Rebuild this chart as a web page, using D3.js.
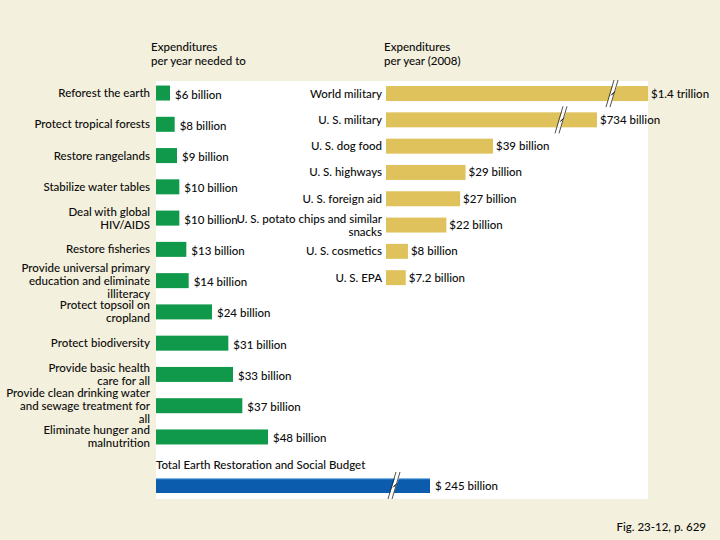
<!DOCTYPE html>
<html>
<head>
<meta charset="utf-8">
<script src="https://cdn.jsdelivr.net/npm/d3@7"></script>
<style>
    body { margin: 0; background: #f3f0dd; }
    text { font-family: Lato, "Open Sans", sans-serif; font-size: 11.5px; font-weight: 500; fill: #0c0c0c; }
</style>
</head>
<body>
<div id="chart"></div>
<script>
// what it would cost per year (billions of dollars)
const needCategories = [
    ["Reforest the earth"],
    ["Protect tropical forests"],
    ["Restore rangelands"],
    ["Stabilize water tables"],
    ["Deal with global", "HIV/AIDS"],
    ["Restore fisheries"],
    ["Provide universal primary", "education and eliminate", "illiteracy"],
    ["Protect topsoil on", "cropland"],
    ["Protect biodiversity"],
    ["Provide basic health", "care for all"],
    ["Provide clean drinking water", "and sewage treatment for", "all"],
    ["Eliminate hunger and", "malnutrition"]
];
const needValues = [6, 8, 9, 10, 10, 13, 14, 24, 31, 33, 37, 48];
const needLabels = ["$6 billion", "$8 billion", "$9 billion", "$10 billion", "$10 billion",
    "$13 billion", "$14 billion", "$24 billion", "$31 billion", "$33 billion", "$37 billion", "$48 billion"];

// what is spent per year (2008, billions of dollars)
const spendCategories = [
    ["World military"],
    ["U. S. military"],
    ["U. S. dog food"],
    ["U. S. highways"],
    ["U. S. foreign aid"],
    ["U. S. potato chips and similar", "snacks"],
    ["U. S. cosmetics"],
    ["U. S. EPA"]
];
const spendValues = [1400, 734, 39, 29, 27, 22, 8, 7.2];
const spendLabels = ["$1.4 trillion", "$734 billion", "$39 billion", "$29 billion",
    "$27 billion", "$22 billion", "$8 billion", "$7.2 billion"];

const totalTitle = "Total Earth Restoration and Social Budget";
const totalValue = 245;
const totalLabel = "$ 245 billion";

const width = 720;
const height = 540;
const lineH = 13;

const svg = d3.select("#chart")
    .append("svg")
    .attr("width", width)
    .attr("height", height);

svg.append("rect")
    .attr("width", width)
    .attr("height", height)
    .attr("fill", "#f3f0dd");

svg.append("rect")
    .attr("x", 156)
    .attr("y", 81)
    .attr("width", 492)
    .attr("height", 418)
    .attr("fill", "#ffffff");

// headers
const header = (x, lines) => {
    svg.append("text")
        .attr("x", x)
        .attr("y", 51)
        .selectAll("tspan")
        .data(lines)
        .join("tspan")
        .attr("x", x)
        .attr("dy", (d, i) => i === 0 ? 0 : 14)
        .text(d => d);
};
header(151, ["Expenditures", "per year needed to"]);
header(384, ["Expenditures", "per year (2008)"]);

// scales: past the break the bars are squeezed
const xNeed = d3.scaleLinear()
    .domain([0, 48, 245])
    .range([156, 268, 430]);
const yNeed = d3.scaleBand()
    .domain(d3.range(needValues.length))
    .range([77.4, 452.6])
    .paddingInner(0.52)
    .paddingOuter(0.26);

const xSpend = d3.scaleLinear()
    .domain([0, 39, 734, 1400])
    .range([386, 493, 597, 648]);
const ySpend = d3.scaleBand()
    .domain(d3.range(spendValues.length))
    .range([80.4, 290.8])
    .paddingInner(0.43)
    .paddingOuter(0.215);

const multiLine = (sel, x, yc, anchor) => {
    sel.attr("text-anchor", anchor)
        .selectAll("tspan")
        .data(d => d)
        .join("tspan")
        .attr("x", x)
        .attr("y", (d, i, nodes) => yc + (i - (nodes.length - 1) / 2) * lineH)
        .attr("dy", "0.35em")
        .text(d => d);
};

const breakMark = (g, bx, y0, h) => {
    const top = y0 - 6, bot = y0 + h + 6;
    g.append("path")
        .attr("d", `M${bx - 2},${y0 + h} L${bx + 3},${y0} L${bx + 7},${y0} L${bx + 2},${y0 + h} Z`)
        .attr("fill", "#ffffff");
    g.append("path")
        .attr("d", `M${bx - 4},${bot} L${bx + 4},${top} M${bx},${bot} L${bx + 8},${top}`)
        .attr("stroke", "#222")
        .attr("stroke-width", 0.8)
        .attr("fill", "none");
    g.append("path")
        .attr("d", `M${bx + 1},${y0 + h / 2 + 2} L${bx + 4},${y0 + h / 2 - 1} L${bx + 2},${y0 + h / 2 + 1} L${bx + 5},${y0 + h / 2 - 2}`)
        .attr("stroke", "#222")
        .attr("stroke-width", 0.8)
        .attr("fill", "none");
};

// needed: green bars
const need = svg.append("g");
need.selectAll("rect")
    .data(needValues)
    .join("rect")
    .attr("x", xNeed(0))
    .attr("y", (d, i) => yNeed(i))
    .attr("width", d => xNeed(d) - xNeed(0))
    .attr("height", yNeed.bandwidth())
    .attr("fill", "#10994a");

need.selectAll("text.value")
    .data(needLabels)
    .join("text")
    .attr("class", "value")
    .attr("x", (d, i) => xNeed(needValues[i]) + 5)
    .attr("y", (d, i) => yNeed(i) + yNeed.bandwidth() / 2 + 1.5)
    .attr("dy", "0.35em")
    .text(d => d);

need.selectAll("text.cat")
    .data(needCategories)
    .join("text")
    .attr("class", "cat")
    .each(function (d, i) {
        multiLine(d3.select(this), 150, yNeed(i) + yNeed.bandwidth() / 2, "end");
    });

// spent: gold bars
const spend = svg.append("g");
spend.selectAll("rect")
    .data(spendValues)
    .join("rect")
    .attr("x", xSpend(0))
    .attr("y", (d, i) => ySpend(i))
    .attr("width", d => xSpend(d) - xSpend(0))
    .attr("height", ySpend.bandwidth())
    .attr("fill", "#e0c25c");

spend.selectAll("text.value")
    .data(spendLabels)
    .join("text")
    .attr("class", "value")
    .attr("x", (d, i) => xSpend(spendValues[i]) + 3)
    .attr("y", (d, i) => ySpend(i) + ySpend.bandwidth() / 2)
    .attr("dy", "0.35em")
    .text(d => d);

spend.selectAll("text.cat")
    .data(spendCategories)
    .join("text")
    .attr("class", "cat")
    .each(function (d, i) {
        multiLine(d3.select(this), 382, ySpend(i) + ySpend.bandwidth() / 2, "end");
    });

spendValues.forEach((v, i) => {
    if (v > 39) breakMark(spend, xSpend(v) - 38, ySpend(i), ySpend.bandwidth());
});

// total budget: blue bar
const total = svg.append("g");
const totalY = 478;
const totalH = 15;
total.append("text")
    .attr("x", 156)
    .attr("y", 469)
    .text(totalTitle);
total.append("rect")
    .attr("x", xNeed(0))
    .attr("y", totalY)
    .attr("width", xNeed(totalValue) - xNeed(0))
    .attr("height", totalH)
    .attr("fill", "#0b5cad");
total.append("rect")
    .attr("x", xNeed(0))
    .attr("y", totalY)
    .attr("width", xNeed(totalValue) - xNeed(0))
    .attr("height", 1.2)
    .attr("fill", "#7db8e8");
total.append("text")
    .attr("x", xNeed(totalValue) + 5)
    .attr("y", totalY + totalH / 2)
    .attr("dy", "0.35em")
    .text(totalLabel);
breakMark(total, xNeed(totalValue) - 38, totalY, totalH);

svg.append("text")
    .attr("x", 706)
    .attr("y", 531)
    .attr("text-anchor", "end")
    .text("Fig. 23-12, p. 629");
</script>
</body>
</html>
